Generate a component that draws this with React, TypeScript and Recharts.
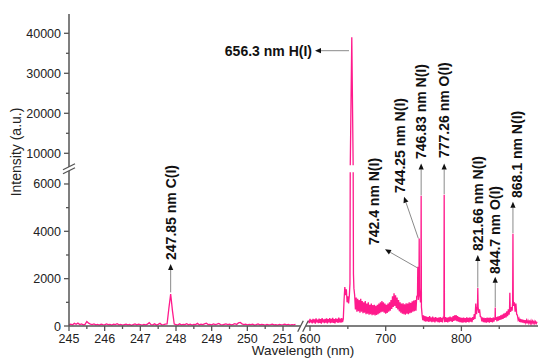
import React from 'react';
import { LineChart, Line, XAxis, YAxis, ReferenceLine, ReferenceDot } from 'recharts';

// ---------------- data ----------------
// left window (245 - 251.35 nm), sampled every 0.05 nm
const leftStart = 245.0;
const leftStep = 0.05;
const leftIntensity = [
  60, 80, 50, 110, 70, 120, 60, 90, 50, 70,
  190, 120, 80, 60, 90, 50, 70, 40, 80, 60,
  50, 90, 60, 70, 40, 80, 60, 100, 50, 70,
  40, 60, 80, 50, 70, 30, 60, 90, 50, 80,
  60, 40, 70, 50, 80, 140, 60, 50, 90, 40,
  70, 110, 50, 60, 80, 90, 750, 1350, 650, 80,
  60, 40, 90, 50, 70, 60, 100, 50, 80, 40,
  70, 60, 110, 50, 80, 60, 90, 120, 60, 70,
  50, 90, 60, 80, 110, 60, 50, 70, 90, 60,
  80, 50, 70, 100, 60, 130, 150, 90, 60, 80,
  50, 70, 60, 80, 40, 60, 90, 50, 70, 60,
  40, 70, 50, 60, 80, 50, 60, 40, 70, 50,
  60, 80, 50, 70, 40, 60, 50, 70,
];

// right window (598 - 900 nm), sampled every 1 nm
const rightStart = 598;
const rightStep = 1;
const rightIntensity = [
  240, 120, 300, 150,
  260, 110, 300, 140, 280, 100, 320, 150, 270, 120,
  310, 130, 290, 100, 330, 150, 280, 120, 300, 140,
  320, 110, 290, 150, 330, 120, 300, 140, 340, 130,
  290, 110, 320, 160, 300, 130, 350, 150, 310, 140,
  330, 160, 300, 1100, 1650, 1300, 1550, 1000, 1250, 950,
  1300, 1700, 2000, 2200, 2000, 1800, 1600, 1300, 700, 1200,
  600, 1150, 620, 1100, 560, 1150, 600, 1050, 540, 1000,
  560, 1050, 500, 950, 520, 1000, 480, 900, 500, 950,
  460, 880, 480, 900, 450, 850, 470, 900, 500, 950,
  540, 1000, 580, 1050, 600, 1000, 560, 950, 520, 900,
  550, 950, 600, 1000, 650, 1100, 720, 1250, 800, 1380,
  850, 1300, 760, 1200, 700, 1100, 620, 1000, 560, 950,
  520, 960, 500, 920, 480, 960, 520, 950, 500, 1000,
  540, 980, 560, 1040, 600, 1080, 620, 1100, 650, 1250,
  2500, 1100, 3700, 1300, 1000, 5500, 500, 250, 450, 200,
  420, 180, 400, 200, 380, 170, 420, 190, 360, 160,
  400, 180, 350, 150, 380, 200, 340, 160, 360, 150,
  380, 170, 340, 150, 360, 5550, 160, 380, 170, 350,
  150, 370, 180, 400, 200, 360, 170, 420, 220, 450,
  240, 460, 200, 420, 180, 380, 160, 360, 150, 340,
  140, 360, 160, 330, 140, 370, 170, 340, 150, 360,
  180, 340, 160, 380, 260, 500, 300, 950, 500, 800,
  1600, 550, 700, 400, 380, 200, 360, 160, 340, 150,
  330, 140, 360, 160, 340, 140, 350, 170, 330, 150,
  360, 180, 340, 760, 380, 200, 400, 230, 420, 260,
  450, 280, 480, 300, 520, 340, 560, 360, 620, 420,
  700, 480, 1400, 600, 800, 650, 3900, 850, 1000, 600,
  950, 500, 450, 250, 320, 170, 300, 150, 280, 140,
  260, 120, 250, 130, 240, 110, 230, 120, 240, 110,
  220, 100, 210, 120, 200, 100, 190, 110, 180,
];

// sharp emission lines, finer than the sampling grid: [wavelength nm, intensity]
const lineH656 = [[652.8, 1800], [653.2, 7000], [655.2, 39000], [657.0, 7000], [657.4, 2200]];
const lineN742 = [[742.0, 1300], [742.4, 2500], [742.8, 1500]];
const lineN744 = [[743.9, 1500], [744.25, 3700], [744.6, 1600]];
const lineN746 = [[746.5, 1200], [746.83, 5500], [747.2, 800]];
const lineO777 = [[776.9, 350], [777.26, 5550], [777.6, 300]];
const lineN821 = [[821.2, 700], [821.66, 1600], [822.1, 800]];
const lineO844 = [[844.4, 250], [844.7, 780], [845.0, 260]];
const lineN864 = [[863.6, 700], [864.0, 1400], [864.4, 800]];
const lineN868 = [[867.7, 1000], [868.1, 3900], [868.5, 1100]];
const rightLines = [lineH656, lineN742, lineN744, lineN746, lineO777, lineN821, lineO844, lineN864, lineN868];

// tick values
const xLeftMajor = [245, 246, 247, 248, 249, 250, 251];
const xLeftMinor = [245.5, 246.5, 247.5, 248.5, 249.5, 250.5];
const xRightMajor = [600, 700, 800];
const xRightMinor = [650, 750, 850];
const yLowMajor = [0, 2000, 4000, 6000];
const yLowMinor = [1000, 3000, 5000];
const yHighMajor = [10000, 20000, 30000, 40000];
const yHighMinor = [15000, 25000, 35000];

// annotations: text, arrow from/to and text anchor point, all in (nm, intensity)
const annotations = [
  { text: '656.3 nm H(I)', from: [651.5, 35650], to: [606.6, 35650], at: [602.6, 35650], vertical: false },
  { text: '247.85 nm C(I)', from: [247.85, 1420], to: [247.85, 2620], at: [247.86, 2790], vertical: true },
  { text: '742.4 nm N(I)', from: [741.7, 2460], to: [699.1, 3240], at: [684.5, 3420], vertical: true },
  { text: '744.25 nm N(I)', from: [743.1, 3700], to: [724.2, 5460], at: [718.9, 5620], vertical: true },
  { text: '746.83 nm N(I)', from: [746.83, 5520], to: [746.83, 7450], at: [746.0, 8575], vertical: true },
  { text: '777.26 nm O(I)', from: [777.26, 5570], to: [777.26, 7450], at: [777.0, 8825], vertical: true },
  { text: '821.66 nm N(I)', from: [821.66, 1620], to: [821.66, 3000], at: [822.5, 3170], vertical: true },
  { text: '844.7 nm O(I)', from: [844.7, 800], to: [844.7, 2080], at: [844.4, 2200], vertical: true },
  { text: '868.1 nm N(I)', from: [868.1, 3920], to: [868.1, 5250], at: [872.8, 5410], vertical: true },
];

// ---------------- broken-axis geometry ----------------
const X_LEFT_K = 35.67;   // axis units per nm in the 245-251.5 window
const X_RIGHT_U0 = 241;   // axis position of 600 nm
const X_RIGHT_K = 0.757;  // axis units per nm in the 600-900 window
const xu = (w: number) => (w < 400 ? (w - 245) * X_LEFT_K : X_RIGHT_U0 + (w - 600) * X_RIGHT_K);
const Y_LOW_TOP = 6500;
const Y_HIGH_BOTTOM = 7000;
const yu = (v: number) => (v <= Y_LOW_TOP ? v * 0.02367 : 172.7 + (v - 10000) * 0.004);
const X_DOMAIN: [number, number] = [0, 469];
const Y_DOMAIN: [number, number] = [0, 312];
const X_BREAK = xu(251.56);
const Y_BREAK = (yu(Y_LOW_TOP) + yu(Y_HIGH_BOTTOM)) / 2;

function gridPoints(start: number, step: number, vals: number[], lines: number[][][]) {
  const pts: number[][] = [];
  vals.forEach((v, i) => {
    const w = +(start + i * step).toFixed(3);
    if (lines.some((l) => w >= l[0][0] && w <= l[l.length - 1][0])) return;
    pts.push([w, v]);
  });
  lines.forEach((l) => l.forEach((p) => pts.push([p[0], p[1]])));
  pts.sort((a, b) => a[0] - b[0]);
  return pts;
}

function toRows(pts: number[][]) {
  const rows: { x: number; y: number | null }[] = [];
  for (let i = 0; i < pts.length; i++) {
    const [w, v] = pts[i];
    if (i > 0) {
      const [pw, pv] = pts[i - 1];
      const lowA = pv <= Y_LOW_TOP;
      const lowB = v <= Y_LOW_TOP;
      if (lowA !== lowB) {
        // cut the segment where it crosses the y-axis break
        const eA = lowA ? Y_LOW_TOP : Y_HIGH_BOTTOM;
        const eB = lowB ? Y_LOW_TOP : Y_HIGH_BOTTOM;
        const fA = (eA - pv) / (v - pv);
        const fB = (eB - pv) / (v - pv);
        rows.push({ x: xu(pw + fA * (w - pw)), y: yu(eA) });
        rows.push({ x: xu(pw + ((fA + fB) / 2) * (w - pw)), y: null });
        rows.push({ x: xu(pw + fB * (w - pw)), y: yu(eB) });
      }
    }
    rows.push({ x: xu(w), y: yu(v) });
  }
  return rows;
}

const chartData = [
  ...toRows(gridPoints(leftStart, leftStep, leftIntensity, [])),
  { x: X_BREAK, y: null },
  ...toRows(gridPoints(rightStart, rightStep, rightIntensity, rightLines)),
];

// ---------------- ticks ----------------
type TickInfo = { label?: string; len: number; brk?: boolean };
const k = (u: number) => u.toFixed(2);
const xTicks = new Map<string, TickInfo>();
xLeftMajor.concat(xRightMajor).forEach((w) => xTicks.set(k(xu(w)), { label: String(w), len: 5 }));
xLeftMinor.concat(xRightMinor).forEach((w) => xTicks.set(k(xu(w)), { len: 3 }));
xTicks.set(k(X_BREAK), { len: 0, brk: true });
const yTicks = new Map<string, TickInfo>();
yLowMajor.concat(yHighMajor).forEach((v) => yTicks.set(k(yu(v)), { label: String(v), len: 5 }));
yLowMinor.concat(yHighMinor).forEach((v) => yTicks.set(k(yu(v)), { len: 3 }));
yTicks.set(k(Y_BREAK), { len: 0, brk: true });
const xTickValues = [...xLeftMajor, ...xLeftMinor, ...xRightMajor, ...xRightMinor].map(xu).concat([X_BREAK]).sort((a, b) => a - b);
const yTickValues = [...yLowMajor, ...yLowMinor, ...yHighMajor, ...yHighMinor].map(yu).concat([Y_BREAK]).sort((a, b) => a - b);

const AXIS = '#555555';
const FONT = '"Liberation Sans", Arial, sans-serif';

const XTick = (props: any) => {
  const { x, y, payload } = props;
  const info = xTicks.get(k(payload.value));
  if (!info) return null;
  if (info.brk) {
    return (
      <g>
        <polygon points={`${x - 5.3},${y + 5.7} ${x - 0.3},${y + 5.7} ${x + 5.3},${y - 5.3} ${x + 0.3},${y - 5.3}`} fill="#fff" />
        <line x1={x - 5.3} y1={y + 5.7} x2={x + 0.3} y2={y - 5.3} stroke={AXIS} strokeWidth={1.3} />
        <line x1={x - 0.3} y1={y + 5.7} x2={x + 5.3} y2={y - 5.3} stroke={AXIS} strokeWidth={1.3} />
      </g>
    );
  }
  return (
    <g>
      <line x1={x} x2={x} y1={y} y2={y + info.len} stroke={AXIS} strokeWidth={1.3} />
      {info.label && (
        <text x={x} y={y + 17} textAnchor="middle" fontFamily={FONT} fontSize={12.5} fill="#222">
          {info.label}
        </text>
      )}
    </g>
  );
};

const YTick = (props: any) => {
  const { x, y, payload } = props;
  const info = yTicks.get(k(payload.value));
  if (!info) return null;
  if (info.brk) {
    return (
      <g>
        <polygon points={`${x - 6},${y + 1} ${x + 6},${y - 5} ${x + 6},${y - 1} ${x - 6},${y + 5}`} fill="#fff" />
        <line x1={x - 6} y1={y + 1} x2={x + 6} y2={y - 5} stroke={AXIS} strokeWidth={1.3} />
        <line x1={x - 6} y1={y + 5} x2={x + 6} y2={y - 1} stroke={AXIS} strokeWidth={1.3} />
      </g>
    );
  }
  return (
    <g>
      <line x1={x - info.len} x2={x} y1={y} y2={y} stroke={AXIS} strokeWidth={1.3} />
      {info.label && (
        <text x={x - 8} y={y + 4.5} textAnchor="end" fontFamily={FONT} fontSize={12.5} fill="#222">
          {info.label}
        </text>
      )}
    </g>
  );
};

const Arrow = (p: any) => {
  const { x1, y1, x2, y2 } = p;
  const a = Math.atan2(y2 - y1, x2 - x1);
  const L = 6;
  const W = 2.6;
  const bx = x2 - L * Math.cos(a);
  const by = y2 - L * Math.sin(a);
  const pts = `${x2},${y2} ${bx + W * Math.sin(a)},${by - W * Math.cos(a)} ${bx - W * Math.sin(a)},${by + W * Math.cos(a)}`;
  return (
    <g>
      <line x1={x1} y1={y1} x2={bx} y2={by} stroke="#8a8a8a" strokeWidth={1} />
      <polygon points={pts} fill="#111" />
    </g>
  );
};

const makeLabel = (text: string, vertical: boolean) => (p: any) => {
  const { cx, cy } = p;
  return (
    <text
      x={cx}
      y={cy}
      transform={vertical ? `rotate(-90 ${cx} ${cy})` : undefined}
      textAnchor={vertical ? 'start' : 'end'}
      dominantBaseline="central"
      fontFamily={FONT}
      fontWeight="bold"
      fontSize={14}
      fill="#111"
    >
      {text}
    </text>
  );
};

export default function App() {
  return (
    <div style={{ position: 'absolute', left: 0, top: 0, width: 539, height: 358, background: '#fff', overflow: 'hidden' }}>
      <LineChart width={539} height={358} data={chartData} margin={{ top: 14, right: 1, bottom: 0, left: 0 }}>
        <XAxis
          dataKey="x"
          type="number"
          domain={X_DOMAIN}
          ticks={xTickValues}
          interval={0}
          tick={<XTick />}
          tickLine={false}
          tickSize={0}
          tickMargin={0}
          height={32}
          axisLine={{ stroke: AXIS, strokeWidth: 1.5 }}
        />
        <XAxis xAxisId="top" orientation="top" type="number" domain={X_DOMAIN} tick={false} tickLine={false} height={0} axisLine={{ stroke: AXIS, strokeWidth: 1.5 }} />
        <YAxis
          type="number"
          domain={Y_DOMAIN}
          ticks={yTickValues}
          interval={0}
          tick={<YTick />}
          tickLine={false}
          tickSize={0}
          tickMargin={0}
          width={69}
          axisLine={{ stroke: AXIS, strokeWidth: 1.5 }}
        />
        <YAxis yAxisId="right" orientation="right" type="number" domain={Y_DOMAIN} tick={false} tickLine={false} width={0} axisLine={{ stroke: AXIS, strokeWidth: 1.5 }} />
        <Line
          dataKey="y"
          type="linear"
          stroke="#ff1a8c"
          strokeWidth={1.3}
          dot={false}
          activeDot={false}
          connectNulls={false}
          isAnimationActive={false}
        />
        {annotations.map((a) => (
          <ReferenceLine
            key={'arr' + a.text}
            segment={[
              { x: xu(a.from[0]), y: yu(a.from[1]) },
              { x: xu(a.to[0]), y: yu(a.to[1]) },
            ]}
            shape={Arrow}
          />
        ))}
        {annotations.map((a) => (
          <ReferenceDot key={'lab' + a.text} x={xu(a.at[0])} y={yu(a.at[1])} r={0} shape={makeLabel(a.text, a.vertical)} />
        ))}
      </LineChart>
      <svg width={539} height={358} style={{ position: 'absolute', left: 0, top: 0, pointerEvents: 'none' }}>
        <text x={16} y={152} transform="rotate(-90 16 152)" textAnchor="middle" dominantBaseline="central" fontFamily={FONT} fontSize={14} fill="#222">
          Intensity (a.u.)
        </text>
        <text x={303} y={355} textAnchor="middle" fontFamily={FONT} fontSize={13.5} fill="#222">
          Wavelength (nm)
        </text>
      </svg>
    </div>
  );
}
